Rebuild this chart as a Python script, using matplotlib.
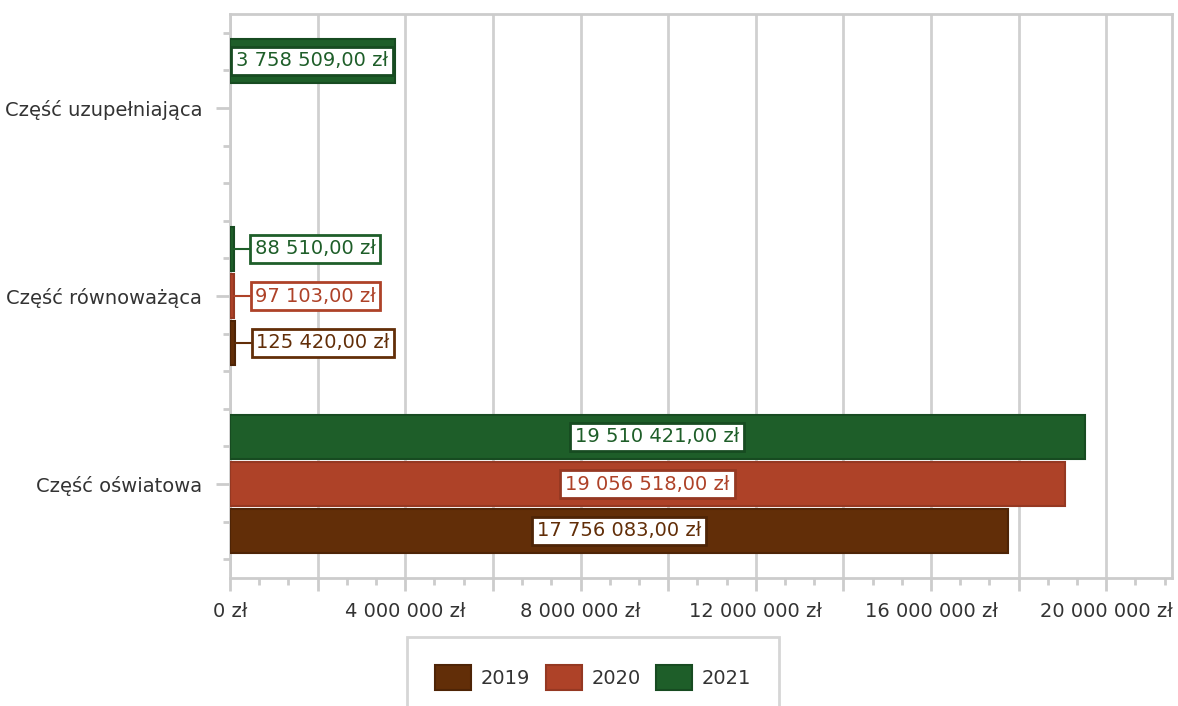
import matplotlib.pyplot as plt
from matplotlib.ticker import MultipleLocator, FuncFormatter, FixedLocator

# data
categories = ["Część uzupełniająca", "Część równoważąca", "Część oświatowa"]
years = ["2019", "2020", "2021"]
values_2019 = [None, 125420.00, 17756083.00]
values_2020 = [None, 97103.00, 19056518.00]
values_2021 = [3758509.00, 88510.00, 19510421.00]

colors = ["#622E08", "#AE4228", "#1E5E29"]
edges = ["#4E2406", "#953822", "#174B21"]


def pln(v, decimals=2):
    s = f"{v:,.{decimals}f}".replace(",", " ").replace(".", ",")
    return s + " zł"


fig = plt.figure(figsize=(11.78, 7.06), dpi=100)
ax = fig.add_axes([230 / 1178, 128 / 706, 942 / 1178, 564 / 706])

series = [values_2019, values_2020, values_2021]
offsets = [0.25, 0.0, -0.25]
bar_h = 0.232
xmax = 21.5e6

for vals, off, col, ec, yr in zip(series, offsets, colors, edges, years):
    ys = [i + off for i, v in enumerate(vals) if v is not None]
    vs = [v for v in vals if v is not None]
    ax.barh(ys, vs, height=bar_h, color=col, edgecolor=ec, linewidth=1.5,
            label=yr, zorder=3)
    for y, v in zip(ys, vs):
        lbl = pln(v)
        if v > 1.5e6:
            ax.text(v / 2, y, lbl, ha="center", va="center", color=col,
                    fontsize=14, zorder=5,
                    bbox=dict(boxstyle="square,pad=0.25", fc="white", ec=ec, lw=2))
        else:
            ax.annotate(lbl, xy=(v, y), xytext=(15, 0), textcoords="offset points",
                        ha="left", va="center", color=col, fontsize=14, zorder=5,
                        bbox=dict(boxstyle="square,pad=0.22", fc="white", ec=col, lw=2),
                        arrowprops=dict(arrowstyle="-", color=col, lw=1.5,
                                        shrinkA=0, shrinkB=0))

ax.set_xlim(0, xmax)
ax.set_ylim(2.5, -0.5)

# x axis
ax.xaxis.set_major_locator(MultipleLocator(2e6))
ax.xaxis.set_minor_locator(MultipleLocator(2e6 / 3))
ax.xaxis.set_major_formatter(FuncFormatter(
    lambda x, p: pln(x, 0) if round(x / 2e6) % 2 == 0 else ""))
ax.grid(axis="x", which="major", color="#d0d0d0", linewidth=2, zorder=0)

# y axis
ax.set_yticks(range(len(categories)))
ax.set_yticklabels(categories)
minor_y = [i + d for i in range(len(categories)) for d in (-0.4, -0.2, 0.2, 0.4)]
ax.yaxis.set_minor_locator(FixedLocator(minor_y))

ax.tick_params(axis="both", which="major", colors="#cccccc", width=2, labelcolor="#333333",
               labelsize=14)
ax.tick_params(axis="x", which="major", length=9, pad=8)
ax.tick_params(axis="x", which="minor", length=5, width=2, colors="#cccccc")
ax.tick_params(axis="y", which="major", length=10, pad=10)
ax.tick_params(axis="y", which="minor", length=5, width=2, colors="#cccccc")

for s in ax.spines.values():
    s.set_color("#cccccc")
    s.set_linewidth(2)

leg = fig.legend(loc="upper center", bbox_to_anchor=(593 / 1178, 1 - 637 / 706), ncol=3,
                 frameon=True, fancybox=False, edgecolor="#cccccc", fontsize=14,
                 handlelength=1.85, handleheight=1.6, handletextpad=0.5,
                 columnspacing=0.8, borderpad=1.45, borderaxespad=0)
leg.get_frame().set_linewidth(2)
for t in leg.get_texts():
    t.set_color("#333333")

fig.savefig("out.png", dpi=100)
